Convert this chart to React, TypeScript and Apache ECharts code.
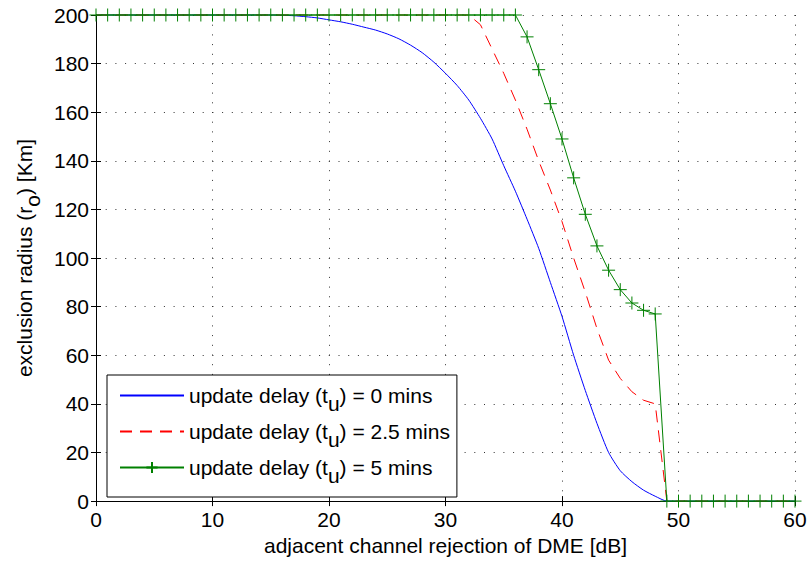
import React, { useEffect, useRef } from "react";
import * as echarts from "echarts";

const xValues: number[] = Array.from({ length: 61 }, (_, i) => i);

const delay0: number[] = [
  200, 200, 200, 200, 200, 200, 200, 200, 200, 200, 200, 200, 200, 200, 200, 200,
  199.9, 199.7, 199.3, 198.8, 198, 197.2, 196.2, 195, 193.8, 192.2, 190.2, 187.6, 184.5, 180.6,
  176, 171, 165, 157.5, 149, 138, 127.5, 116, 104, 90,
  76, 60, 45.5, 32, 20, 12.5, 8, 4.5, 2, 0,
  0, 0, 0, 0, 0, 0, 0, 0, 0, 0, 0,
];

const delay25: number[] = [
  200, 200, 200, 200, 200, 200, 200, 200, 200, 200,
  200, 200, 200, 200, 200, 200, 200, 200, 200, 200,
  200, 200, 200, 200, 200, 200, 200, 200, 200, 200,
  200, 200, 200, 196, 186, 176, 165, 153, 140, 128,
  115, 100, 86, 71, 58, 50.5, 45, 41.5, 40, 0,
  0, 0, 0, 0, 0, 0, 0, 0, 0, 0, 0,
];

const delay5: number[] = [
  200, 200, 200, 200, 200, 200, 200, 200, 200, 200,
  200, 200, 200, 200, 200, 200, 200, 200, 200, 200,
  200, 200, 200, 200, 200, 200, 200, 200, 200, 200,
  200, 200, 200, 200, 200, 200, 200, 191, 177.5, 163.5,
  149, 133, 118, 105, 95, 87, 81.5, 78.5, 77, 0,
  0, 0, 0, 0, 0, 0, 0, 0, 0, 0, 0,
];

const seriesNames: string[] = ["0", "2.5", "5"];

const FONT = "'Liberation Sans', Arial, Helvetica, sans-serif";
const FS = 21;

export default function App() {
  const ref = useRef<HTMLDivElement>(null);
  useEffect(() => {
    if (!ref.current) return;
    const chart = echarts.init(ref.current, undefined, { renderer: "svg" });
    const pair = (arr: number[]) => xValues.map((x, i) => [x, arr[i]]);
    const gridLine = { show: true, lineStyle: { color: "#333", width: 1, type: [1, 8.7] as any } };
    const plus = "path://M5,0L5,10M0,5L10,5";
    const subRich = { sub: { fontSize: FS, color: "#000", fontFamily: FONT, padding: [16, 0, 0, 0] } };
    const hidden = { color: "rgba(0,0,0,0)", borderColor: "rgba(0,0,0,0)", borderWidth: 0 };
    chart.setOption({
      animation: false,
      backgroundColor: "#fff",
      textStyle: { fontFamily: FONT },
      grid: { left: 96, top: 15, right: 16, bottom: 58, containLabel: false },
      xAxis: [
        {
          type: "value",
          min: 0,
          max: 60,
          interval: 10,
          name: "adjacent channel rejection of DME [dB]",
          nameLocation: "middle",
          nameGap: 32,
          nameTextStyle: { fontSize: FS, color: "#000", fontFamily: FONT },
          axisLine: { show: true, onZero: false, lineStyle: { color: "#000", width: 1 } },
          axisTick: { show: true, inside: true, length: 5, lineStyle: { color: "#000" } },
          axisLabel: { fontSize: FS, color: "#000", margin: 8, fontFamily: FONT },
          splitLine: gridLine,
        },
        {
          type: "value",
          position: "top",
          min: 0,
          max: 60,
          interval: 10,
          axisLine: { show: true, lineStyle: { color: "#000", width: 1 } },
          axisTick: { show: true, inside: true, length: 5, lineStyle: { color: "#000" } },
          axisLabel: { show: false },
          splitLine: { show: false },
        },
      ],
      yAxis: [
        {
          type: "value",
          min: 0,
          max: 200,
          interval: 20,
          name: "exclusion radius (r{sub|o}) [Km]",
          nameLocation: "middle",
          nameGap: 51,
          nameTextStyle: { fontSize: FS, color: "#000", fontFamily: FONT, rich: subRich },
          axisLine: { show: true, onZero: false, lineStyle: { color: "#000", width: 1 } },
          axisTick: { show: true, inside: true, length: 5, lineStyle: { color: "#000" } },
          axisLabel: { fontSize: FS, color: "#000", margin: 7, fontFamily: FONT },
          splitLine: gridLine,
        },
        {
          type: "value",
          position: "right",
          min: 0,
          max: 200,
          interval: 20,
          axisLine: { show: true, lineStyle: { color: "#000", width: 1 } },
          axisTick: { show: true, inside: true, length: 5, lineStyle: { color: "#000" } },
          axisLabel: { show: false },
          splitLine: { show: false },
        },
      ],
      legend: {
        orient: "vertical",
        left: 107,
        top: 375,
        backgroundColor: "#fff",
        borderColor: "#000",
        borderWidth: 1,
        borderRadius: 0,
        padding: [10, 7, 11, 12],
        itemWidth: 64,
        itemHeight: 14,
        itemGap: 7,
        data: seriesNames,
        formatter: (name: string) => `update delay (t{sub|u}) = ${name} mins`,
        textStyle: { fontSize: FS, color: "#000", fontFamily: FONT, rich: subRich },
      },
      series: [
        {
          name: seriesNames[0],
          type: "line",
          data: pair(delay0),
          symbol: "circle",
          symbolSize: 1,
          showSymbol: false,
          clip: false,
          lineStyle: { color: "#0000ff", width: 1 },
          itemStyle: hidden,
          smooth: 0.2,
        },
        {
          name: seriesNames[1],
          type: "line",
          data: pair(delay25),
          symbol: "circle",
          symbolSize: 1,
          showSymbol: false,
          clip: false,
          lineStyle: { color: "#ff0000", width: 1, type: [12, 8] as any },
          itemStyle: hidden,
        },
        {
          name: seriesNames[2],
          type: "line",
          data: pair(delay5),
          symbol: plus,
          symbolSize: 13,
          showAllSymbol: true,
          clip: false,
          lineStyle: { color: "#008000", width: 1 },
          itemStyle: { color: "#008000", borderColor: "#008000", borderWidth: 1 },
        },
      ],
    });
    return () => chart.dispose();
  }, []);
  return <div ref={ref} style={{ width: 811, height: 561, position: "absolute", left: 0, top: 0 }} />;
}
